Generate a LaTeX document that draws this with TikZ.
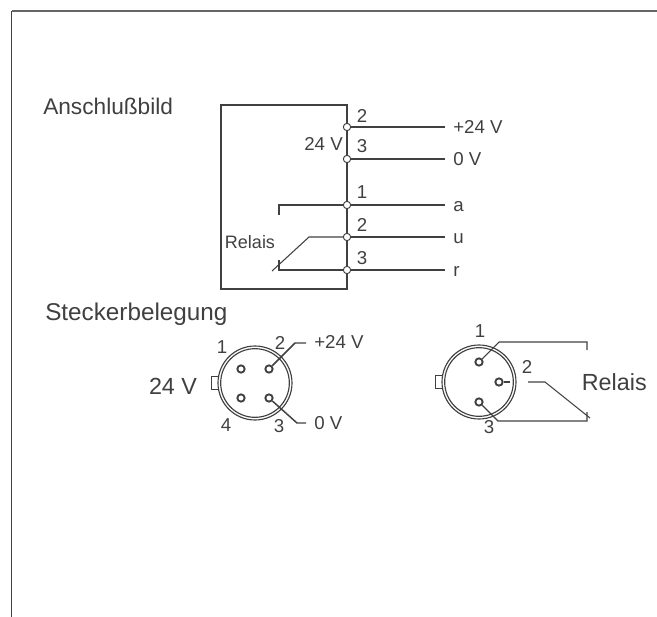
\documentclass[tikz,border=0pt]{standalone}
\usepackage{fontspec}
\setmainfont{Liberation Sans}
\usetikzlibrary{positioning}
\definecolor{ink}{gray}{0.25}
\tikzset{
  wire/.style={draw=ink, line width=0.8pt},
  terminal/.style={draw=ink, fill=white, circle, line width=0.7pt, inner sep=0pt, minimum size=5.5pt},
  pin/.style={draw=ink, fill=white, circle, line width=1.4pt, inner sep=0pt, minimum size=5.5pt},
  ring/.style={draw=ink, circle, line width=0.85pt, inner sep=0pt},
  txt/.style={text=ink, inner sep=0pt, font=\fontsize{14}{16}\selectfont},
  head/.style={text=ink, inner sep=0pt, font=\fontsize{17}{20}\selectfont},
  big/.style={text=ink, inner sep=0pt, font=\fontsize{17.5}{20}\selectfont},
  wirelabel/.style={txt, anchor=west, text height=9.5pt, text depth=0pt, inner xsep=6pt}
}
\begin{document}
\begin{tikzpicture}[x=0.75pt, y=-0.75pt]
  \useasboundingbox (0,0) rectangle (657,617);
  \coordinate (framea) at (657,11);
  \coordinate (frameb) at (11.5,11);
  \coordinate (framec) at (11.5,617);
  \draw[draw=black!60, line width=0.8pt] (framea) -- (frameb);
  \draw[draw=ink, line width=0.6pt] (frameb) -- (framec);

  \node[head, anchor=west] (bild) at (43,106) {Anschlußbild};
  \node[head, font=\fontsize{18.2}{20}\selectfont, anchor=west] (stecker) at (45,314) {Steckerbelegung};

  \node[draw=ink, line width=0.8pt, rectangle, minimum width=94.5pt, minimum height=138pt, inner sep=0pt] (box) at (284,197) {};

  \node[wirelabel] (plus) at (445,127) {+24 V};
  \node[wirelabel] (zero) at (445,159) {0 V};
  \node[wirelabel] (a) at (445,205) {a};
  \node[wirelabel] (u) at (445,237) {u};
  \node[wirelabel] (r) at (445,270) {r};
  \node[terminal] (ta) at (347,127) {};
  \node[terminal] (tb) at (347,159) {};
  \node[terminal] (tc) at (347,205) {};
  \node[terminal] (td) at (347,237) {};
  \node[terminal] (te) at (347,270) {};
  \draw[wire] (ta) -- (plus.west);
  \draw[wire] (tb) -- (zero.west);
  \draw[wire] (tc) -- (a.west);
  \draw[wire] (td) -- (u.west);
  \draw[wire] (te) -- (r.west);

  \node[txt] (la) at (362,116) {2};
  \node[txt] (lb) at (362,146) {3};
  \node[txt] (lc) at (362,192) {1};
  \node[txt] (ld) at (362,225) {2};
  \node[txt] (le) at (362,258) {3};
  \node[txt, anchor=east] (volt) at (343,144) {24 V};
  \node[txt, font=\fontsize{13.5}{16}\selectfont] (relais) at (250,242) {Relais};

  \coordinate (openend) at (279,215);
  \coordinate (openbend) at (279,205);
  \draw[wire] (tc) -- (openbend) -- (openend);
  \coordinate (armbend) at (309,237);
  \coordinate (armend) at (272,271);
  \draw[wire] (td) -- (armbend) -- (armend);
  \coordinate (ticktop) at (279,260);
  \coordinate (tickend) at (279,270);
  \draw[wire] (ticktop) -- (tickend) -- (te);

  \node[draw=ink, line width=0.7pt, rectangle, minimum width=5.5pt, minimum height=10pt, inner sep=0pt] (keya) at (215,383) {};
  \node[ring, fill=white, minimum size=55.5pt] (outera) at (255,383) {};
  \node[ring, minimum size=51.5pt] (innera) at (255,383) {};
  \coordinate (bendb) at (295,343);
  \coordinate (endb) at (306,343);
  \coordinate (bendc) at (297,423);
  \coordinate (endc) at (306,423);
  \node[pin] (pa) at (241,369) {};
  \node[pin] (pb) at (269,369) {};
  \node[pin] (pc) at (269,398) {};
  \node[pin] (pd) at (241,398) {};
  \draw[wire, line width=1.1pt] (pb) -- (bendb) -- (endb);
  \draw[wire, line width=1.1pt] (pc) -- (bendc) -- (endc);
  \node[txt, anchor=west] (plusb) at (314,342) {+24 V};
  \node[txt, anchor=west] (zerob) at (314,423) {0 V};
  \node[txt] (na) at (222,347) {1};
  \node[txt] (nb) at (280,343) {2};
  \node[txt] (nc) at (279,426) {3};
  \node[txt] (nd) at (226,425) {4};
  \node[big] (voltb) at (173,386) {24 V};

  \node[draw=ink, line width=0.7pt, rectangle, minimum width=5.5pt, minimum height=9.5pt, inner sep=0pt] (keyb) at (439,382) {};
  \node[ring, fill=white, minimum size=55.5pt] (outerb) at (479,382) {};
  \node[ring, minimum size=51.5pt] (innerb) at (479,382) {};
  \node[pin] (qa) at (479,362) {};
  \node[pin] (qb) at (499,382) {};
  \node[pin] (qc) at (479,402) {};
  \coordinate (benda) at (499,342);
  \coordinate (corner) at (587,342);
  \coordinate (stub) at (587,350);
  \draw[wire] (qa) -- (benda) -- (corner) -- (stub);
  \coordinate (pinout) at (510,382);
  \draw[wire] (qb) -- (pinout);
  \coordinate (contacta) at (528,382);
  \coordinate (contactb) at (545,382);
  \coordinate (contactc) at (590,418);
  \draw[wire] (contacta) -- (contactb) -- (contactc);
  \coordinate (bendd) at (498,421);
  \coordinate (tickb) at (587,421);
  \coordinate (tickc) at (587,412);
  \draw[wire] (qc) -- (bendd) -- (tickb) -- (tickc);
  \node[txt] (ma) at (480,331) {1};
  \node[txt] (mb) at (527,367) {2};
  \node[txt] (mc) at (489,427) {3};
  \node[big, anchor=east] (relaisb) at (647,382) {Relais};
\end{tikzpicture}
\end{document}
